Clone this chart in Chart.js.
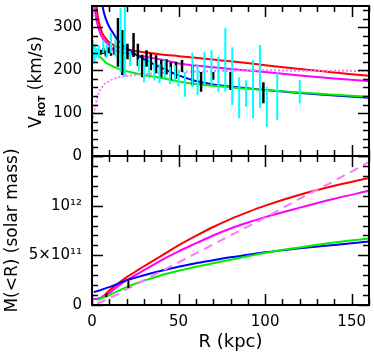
<!DOCTYPE html>
<html>
<head>
<meta charset="utf-8">
<script src="https://cdn.jsdelivr.net/npm/chart.js@4/dist/chart.umd.min.js"></script>
<style>
  html, body { margin: 0; padding: 0; background: #fff; }
  #wrap { position: relative; width: 374px; height: 354px; }
  #wrap canvas { position: absolute; left: 0; top: 0; }
</style>
</head>
<body>
<div id="wrap">
  <canvas id="chartMass" width="374" height="354"></canvas>
  <canvas id="chartVrot" width="374" height="354"></canvas>
</div>
<script>
// ---- rotation curve panel (R in kpc, V in km/s) ----
const vR      = [0.5, 1, 1.5, 2, 3, 4, 5, 6, 8, 10, 12, 15, 20, 25, 30, 40, 50, 60, 70, 80, 100, 120, 140, 160];
const vRed    = [560, 470, 420, 390, 335, 312, 298, 286, 274, 265, 260, 255, 249, 245, 242, 237, 233, 229, 225, 221, 212, 203, 195, 187];
const vMag    = [470, 400, 352, 332, 310, 296, 284, 276, 266, 258, 250, 244, 240, 236, 232, 225, 216, 211, 207, 203, 196, 188, 181, 175];
const vMagDot = [ 88, 100, 107, 118, 135, 148, 156, 162, 170, 175, 179, 183, 187, 189, 191, 194, 196, 197, 198, 199, 200, 199, 199, 198];
const vBlue   = [900, 800, 700, 600, 500, 440, 390, 352, 320, 301, 288, 270, 251, 238, 226, 206, 188, 175, 167, 162, 154, 147, 141, 136];
const vGreen  = [262, 255, 250, 246, 240, 235, 230, 226, 218, 213, 209, 204, 198, 193, 189, 182, 174, 168, 164, 160, 154, 148, 143, 138];

// measured points: [R, low, high]
const vBlack = [
  [5, 236, 248], [6.5, 238, 252], [8, 232, 246], [9.5, 240, 254], [11, 234, 250], [13, 236, 256],
  [15, 208, 322], [17.5, 189, 294], [20.5, 226, 262], [24, 231, 287], [26.5, 210, 262], [29, 184, 236],
  [31.5, 208, 247], [34, 200, 240], [37, 193, 235], [40, 184, 224], [43, 190, 226], [45.5, 177, 219],
  [48.5, 180, 220], [52, 196, 224], [58, 165, 212], [63, 150, 196], [70, 178, 196], [80, 154, 196], [99, 123, 172]
];
const vCyan = [
  [0.5, 218, 272], [1.5, 220, 262], [2.5, 230, 252], [4, 228, 258], [6.5, 240, 270], [8.5, 228, 262],
  [11, 240, 288], [13.5, 232, 272], [16.5, 195, 345], [19, 185, 355], [22, 210, 245],
  [27, 198, 226], [30, 172, 222], [33, 188, 230], [36, 176, 220], [39, 170, 214], [42, 182, 224],
  [45, 168, 208], [48, 176, 212], [50, 162, 202], [53.7, 138, 196], [58, 161, 241], [61, 142, 212],
  [65, 166, 243], [69, 166, 247], [73, 150, 231], [77, 150, 299], [81, 119, 254], [85, 88, 184],
  [89, 115, 177], [93, 88, 224], [97, 112, 259], [101, 68, 161], [107, 84, 194], [120, 123, 177]
];

// ---- enclosed mass panel (solar masses) ----
const mR       = [1, 3, 5, 8, 10, 15, 20, 25, 30, 40, 50, 60, 70, 80, 90, 100, 120, 140, 160];
const mRed     = [6.0e10, 6.1e10, 7.0e10, 1.1e11, 1.45e11, 2.15e11, 2.8e11, 3.35e11, 3.9e11, 4.95e11, 6.0e11, 6.95e11, 7.85e11, 8.65e11, 9.35e11, 1.0e12, 1.11e12, 1.2e12, 1.28e12];
const mMag     = [6.0e10, 6.1e10, 7.0e10, 1.0e11, 1.2e11, 1.9e11, 2.5e11, 3.0e11, 3.5e11, 4.5e11, 5.4e11, 6.2e11, 7.0e11, 7.7e11, 8.3e11, 8.85e11, 9.8e11, 1.07e12, 1.15e12];
const mMagDash = [null, 1.5e10, 3.0e10, 5.0e10, 7.0e10, 1.1e11, 1.6e11, 2.0e11, 2.5e11, 3.4e11, 4.3e11, 5.2e11, 6.1e11, 7.0e11, 7.9e11, 8.8e11, 1.07e12, 1.25e12, 1.44e12];
const mBlue    = [1.3e11, 1.4e11, 1.5e11, 1.7e11, 1.8e11, 2.15e11, 2.5e11, 2.75e11, 3.0e11, 3.45e11, 3.85e11, 4.2e11, 4.5e11, 4.8e11, 5.05e11, 5.3e11, 5.7e11, 6.05e11, 6.4e11];
const mGreen   = [null, 5.0e10, 6.5e10, 8.5e10, 1.0e11, 1.4e11, 1.8e11, 2.15e11, 2.45e11, 3.0e11, 3.45e11, 3.85e11, 4.2e11, 4.55e11, 4.9e11, 5.25e11, 5.8e11, 6.3e11, 6.7e11];
const mBlack   = [[8.3, 8.0e10, 1.15e11], [21, 1.7e11, 2.5e11]];

// ---- axes ----
const rTicks = [0, 50, 100, 150];
const vTicks = [0, 100, 200, 300];
const mTicks = [0, 5e11, 1e12];
const mTickLabels = ['0', '5\u00d710\u00b9\u00b9', '10\u00b9\u00b2'];

const FONT = '"DejaVu Sans", sans-serif';

function curve(xs, ys) {
  return xs.map((x, i) => ({ x: x, y: ys[i] }));
}
// vertical error bars as line pieces separated by gaps
function bars(list) {
  const out = [];
  list.forEach(b => {
    out.push({ x: b[0], y: b[1] }, { x: b[0], y: b[2] }, { x: b[0], y: null });
  });
  return out;
}

function lineSet(data, color, width, dash) {
  return {
    data: data, borderColor: color, borderWidth: width, borderDash: dash || [],
    pointRadius: 0, fill: false, cubicInterpolationMode: 'monotone', spanGaps: false
  };
}
function barSet(data, color, width) {
  return { data: data, borderColor: color, borderWidth: width, pointRadius: 0, fill: false, tension: 0, spanGaps: false };
}

// inward ticks + box, like the old plotting packages
const boxTicks = {
  id: 'boxTicks',
  afterDatasetsDraw(chart, args, opts) {
    const { ctx, chartArea: a, scales } = chart;
    const x = scales.x, y = scales.y;
    ctx.save();
    ctx.strokeStyle = '#000';
    ctx.lineWidth = 1.5;
    ctx.beginPath();
    for (let v = 0; v <= 160; v += 10) {
      const px = Math.round(x.getPixelForValue(v)) + 0.5;
      const len = v % 50 === 0 ? 11 : 6;
      ctx.moveTo(px, a.bottom); ctx.lineTo(px, a.bottom - len);
      ctx.moveTo(px, a.top); ctx.lineTo(px, a.top + len);
    }
    for (let v = 0; v <= opts.yMax + 1e-6; v += opts.yMinor) {
      const py = Math.round(y.getPixelForValue(v)) + 0.5;
      const major = Math.abs(v / opts.yMajor - Math.round(v / opts.yMajor)) < 1e-6;
      const len = major ? 11 : 6;
      ctx.moveTo(a.left, py); ctx.lineTo(a.left + len, py);
      ctx.moveTo(a.right, py); ctx.lineTo(a.right - len, py);
    }
    ctx.stroke();
    ctx.lineWidth = 2;
    ctx.strokeRect(a.left, a.top, a.right - a.left, a.bottom - a.top);
    ctx.restore();
  }
};

// y title with subscript for the velocity panel
const vTitle = {
  id: 'vTitle',
  afterDraw(chart) {
    const ctx = chart.ctx;
    const big = '17px ' + FONT, small = 'bold 9px ' + FONT;
    ctx.save();
    ctx.translate(37, 82);
    ctx.rotate(-Math.PI / 2);
    ctx.fillStyle = '#000';
    ctx.textBaseline = 'middle';
    ctx.font = big;
    const w1 = ctx.measureText('V').width, w3 = ctx.measureText(' (km/s)').width;
    ctx.font = small;
    const w2 = ctx.measureText('ROT').width;
    let px = -(w1 + w2 + w3) / 2;
    ctx.font = big; ctx.fillText('V', px, 0); px += w1;
    ctx.font = small; ctx.fillText('ROT', px, 6); px += w2;
    ctx.font = big; ctx.fillText(' (km/s)', px, 0);
    ctx.restore();
  }
};

function yAxis(min, max, ticks, labels, title) {
  return {
    min: min, max: max,
    afterBuildTicks: s => { s.ticks = ticks.map(v => ({ value: v })); },
    afterFit: s => { s.width = 92; s.paddingTop = 0; s.paddingBottom = 0; },
    grid: { display: false, drawTicks: false },
    border: { display: false },
    ticks: {
      autoSkip: false, padding: 10, color: '#000', font: { family: FONT, size: 15 },
      callback: (v, i) => labels ? labels[i] : String(v)
    },
    title: title
  };
}

Chart.defaults.animation = false;

new Chart(document.getElementById('chartVrot'), {
  type: 'line',
  data: {
    datasets: [
      barSet(bars(vCyan), '#00ffff', 2),
      barSet(bars(vBlack), '#000000', 2.5),
      lineSet(curve(vR, vMagDot), '#ff77ff', 2, [2, 2]),
      lineSet(curve(vR, vGreen), '#00ee00', 2),
      lineSet(curve(vR, vBlue), '#0000ff', 2),
      lineSet(curve(vR, vMag), '#ff00ff', 2),
      lineSet(curve(vR, vRed), '#ff0000', 2)
    ]
  },
  options: {
    responsive: false,
    layout: { padding: { left: 0, top: 6, right: 5, bottom: 198 } },
    scales: {
      x: { type: 'linear', min: 0, max: 160, display: false },
      y: yAxis(0, 350, vTicks, null, { display: false })
    },
    plugins: { legend: { display: false }, tooltip: { enabled: false }, boxTicks: { yMax: 350, yMinor: 20, yMajor: 100 } }
  },
  plugins: [boxTicks, vTitle]
});

new Chart(document.getElementById('chartMass'), {
  type: 'line',
  data: {
    datasets: [
      barSet(bars(mBlack), '#000000', 2),
      lineSet(curve(mR, mMagDash), '#ff77ff', 2, [9, 6]),
      lineSet(curve(mR, mGreen), '#00ee00', 2),
      lineSet(curve(mR, mBlue), '#0000ff', 2),
      lineSet(curve(mR, mMag), '#ff00ff', 2),
      lineSet(curve(mR, mRed), '#ff0000', 2)
    ]
  },
  options: {
    responsive: false,
    layout: { padding: { left: 0, top: 156, right: 5, bottom: 0 } },
    scales: {
      x: {
        type: 'linear', min: 0, max: 160,
        afterBuildTicks: s => { s.ticks = rTicks.map(v => ({ value: v })); },
        afterFit: s => { s.height = 49; s.paddingLeft = 0; s.paddingRight = 0; },
        grid: { display: false, drawTicks: false },
        border: { display: false },
        ticks: { autoSkip: false, maxRotation: 0, padding: 8, color: '#000', font: { family: FONT, size: 15 } },
        title: { display: true, text: 'R (kpc)', color: '#000', font: { family: FONT, size: 18 }, padding: { top: 0, bottom: 1 } }
      },
      y: yAxis(0, 1.5e12, mTicks, mTickLabels,
        { display: true, text: 'M(<R) (solar mass)', color: '#000', font: { family: FONT, size: 17 }, padding: { top: 2, bottom: 0 } })
    },
    plugins: { legend: { display: false }, tooltip: { enabled: false }, boxTicks: { yMax: 1.5e12, yMinor: 1e11, yMajor: 5e11 } }
  },
  plugins: [boxTicks]
});
</script>
</body>
</html>
